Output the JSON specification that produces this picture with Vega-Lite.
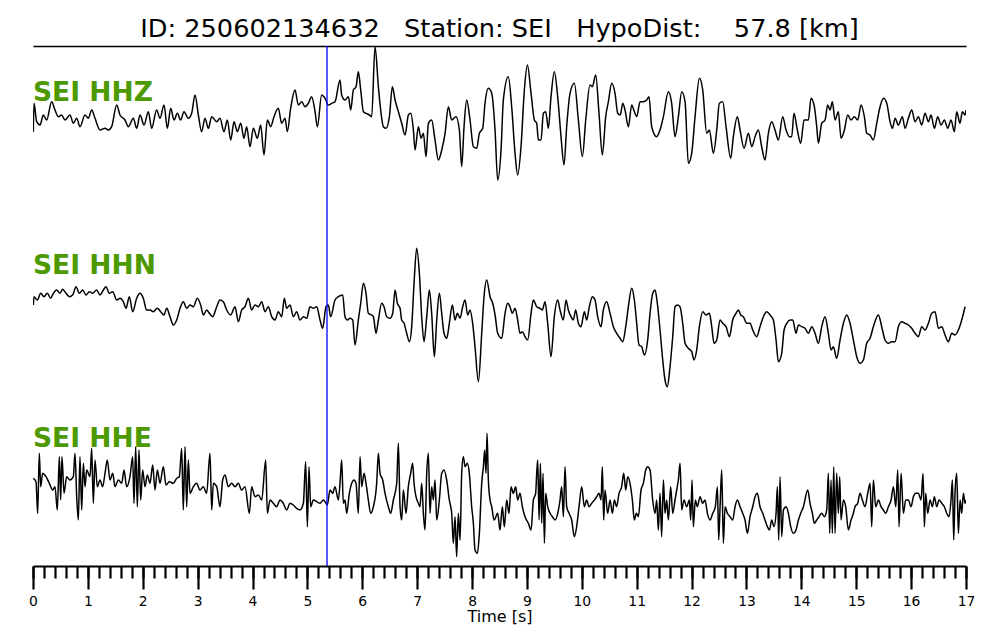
{
"$schema": "https://vega.github.io/schema/vega-lite/v6.json",
"width": 933, "height": 520,
"autosize": {"type": "none"},
"padding": {"left": 33, "top": 46, "right": 34, "bottom": 74},
"background": "white",
"config": {"view": {"stroke": null}, "font": "DejaVu Sans"},
"title": {"text": "ID: 250602134632\u00a0\u00a0\u00a0Station: SEI\u00a0\u00a0\u00a0HypoDist:\u00a0\u00a0\u00a0\u00a057.8 [km]", "fontSize": 25.6, "fontWeight": "normal", "font": "DejaVu Sans", "color": "black", "anchor": "middle", "baseline": "alphabetic", "offset": 9, "dy": 26},
"datasets": {
"tr": [
{"c":"Z","t":0.006,"v":434.3},{"c":"Z","t":0.018,"v":462.7},{"c":"Z","t":0.067,"v":444.3},{"c":"Z","t":0.128,"v":441},{"c":"Z","t":0.188,"v":451},{"c":"Z","t":0.249,"v":446},{"c":"Z","t":0.34,"v":464.3},{"c":"Z","t":0.401,"v":456},{"c":"Z","t":0.462,"v":449.3},{"c":"Z","t":0.522,"v":451},{"c":"Z","t":0.583,"v":446},{"c":"Z","t":0.674,"v":451},{"c":"Z","t":0.735,"v":442.7},{"c":"Z","t":0.796,"v":447.7},{"c":"Z","t":0.856,"v":439.3},{"c":"Z","t":0.948,"v":451},{"c":"Z","t":1.008,"v":447.7},{"c":"Z","t":1.069,"v":456},{"c":"Z","t":1.13,"v":447.7},{"c":"Z","t":1.221,"v":436},{"c":"Z","t":1.312,"v":437.7},{"c":"Z","t":1.373,"v":436},{"c":"Z","t":1.433,"v":439.3},{"c":"Z","t":1.525,"v":461},{"c":"Z","t":1.585,"v":451},{"c":"Z","t":1.676,"v":446},{"c":"Z","t":1.737,"v":439.3},{"c":"Z","t":1.828,"v":447.7},{"c":"Z","t":1.889,"v":437.7},{"c":"Z","t":1.95,"v":451},{"c":"Z","t":2.023,"v":441},{"c":"Z","t":2.102,"v":454.3},{"c":"Z","t":2.162,"v":437.7},{"c":"Z","t":2.253,"v":456},{"c":"Z","t":2.314,"v":447.7},{"c":"Z","t":2.387,"v":461},{"c":"Z","t":2.448,"v":437.7},{"c":"Z","t":2.509,"v":457.7},{"c":"Z","t":2.569,"v":446},{"c":"Z","t":2.63,"v":452.7},{"c":"Z","t":2.691,"v":446},{"c":"Z","t":2.751,"v":454.3},{"c":"Z","t":2.83,"v":447.7},{"c":"Z","t":2.891,"v":452.7},{"c":"Z","t":2.952,"v":471},{"c":"Z","t":3.013,"v":451},{"c":"Z","t":3.073,"v":434.3},{"c":"Z","t":3.134,"v":447.7},{"c":"Z","t":3.195,"v":437.7},{"c":"Z","t":3.256,"v":449.3},{"c":"Z","t":3.347,"v":444.3},{"c":"Z","t":3.407,"v":447.7},{"c":"Z","t":3.48,"v":434.3},{"c":"Z","t":3.541,"v":446},{"c":"Z","t":3.602,"v":426},{"c":"Z","t":3.663,"v":444.3},{"c":"Z","t":3.723,"v":434.3},{"c":"Z","t":3.784,"v":442.7},{"c":"Z","t":3.845,"v":427.7},{"c":"Z","t":3.893,"v":439.3},{"c":"Z","t":3.954,"v":419.3},{"c":"Z","t":4.015,"v":437.7},{"c":"Z","t":4.088,"v":427.7},{"c":"Z","t":4.148,"v":441},{"c":"Z","t":4.209,"v":411},{"c":"Z","t":4.27,"v":446},{"c":"Z","t":4.331,"v":439.3},{"c":"Z","t":4.391,"v":449.3},{"c":"Z","t":4.47,"v":457.7},{"c":"Z","t":4.531,"v":442.7},{"c":"Z","t":4.592,"v":447.7},{"c":"Z","t":4.634,"v":434.3},{"c":"Z","t":4.695,"v":457.7},{"c":"Z","t":4.774,"v":476},{"c":"Z","t":4.835,"v":461},{"c":"Z","t":4.896,"v":464.3},{"c":"Z","t":4.956,"v":459.3},{"c":"Z","t":5.017,"v":462.7},{"c":"Z","t":5.078,"v":469.3},{"c":"Z","t":5.139,"v":454.3},{"c":"Z","t":5.181,"v":439.3},{"c":"Z","t":5.26,"v":471},{"c":"Z","t":5.321,"v":467.7},{"c":"Z","t":5.381,"v":461},{"c":"Z","t":5.442,"v":462.7},{"c":"Z","t":5.503,"v":464.3},
{"c":"Z","t":5.594,"v":486},{"c":"Z","t":5.624,"v":471},{"c":"Z","t":5.685,"v":466},{"c":"Z","t":5.746,"v":469.3},{"c":"Z","t":5.789,"v":456},{"c":"Z","t":5.837,"v":476},{"c":"Z","t":5.886,"v":479.3},{"c":"Z","t":5.928,"v":494.3},{"c":"Z","t":5.971,"v":476},{"c":"Z","t":6.02,"v":454.3},{"c":"Z","t":6.068,"v":452.7},{"c":"Z","t":6.129,"v":451},{"c":"Z","t":6.171,"v":449.3},{"c":"Z","t":6.232,"v":519.3},{"c":"Z","t":6.293,"v":479.3},{"c":"Z","t":6.335,"v":456},{"c":"Z","t":6.384,"v":439.3},{"c":"Z","t":6.433,"v":437.7},{"c":"Z","t":6.494,"v":449.3},{"c":"Z","t":6.548,"v":479.3},{"c":"Z","t":6.597,"v":466},{"c":"Z","t":6.658,"v":454.3},{"c":"Z","t":6.718,"v":442.7},{"c":"Z","t":6.779,"v":431},{"c":"Z","t":6.84,"v":451},{"c":"Z","t":6.882,"v":452.7},{"c":"Z","t":6.931,"v":436},{"c":"Z","t":6.961,"v":416},{"c":"Z","t":7.022,"v":439.3},{"c":"Z","t":7.07,"v":427.7},{"c":"Z","t":7.113,"v":432.7},{"c":"Z","t":7.161,"v":409.3},{"c":"Z","t":7.204,"v":442.7},{"c":"Z","t":7.264,"v":446},{"c":"Z","t":7.325,"v":426},{"c":"Z","t":7.386,"v":406},{"c":"Z","t":7.447,"v":416},{"c":"Z","t":7.508,"v":432.7},{"c":"Z","t":7.568,"v":459.3},{"c":"Z","t":7.629,"v":446},{"c":"Z","t":7.708,"v":449.3},{"c":"Z","t":7.769,"v":436},{"c":"Z","t":7.811,"v":399.3},{"c":"Z","t":7.854,"v":439.3},{"c":"Z","t":7.902,"v":466},{"c":"Z","t":7.963,"v":446},{"c":"Z","t":8.024,"v":419.3},{"c":"Z","t":8.085,"v":417.7},{"c":"Z","t":8.133,"v":432.7},{"c":"Z","t":8.194,"v":437.7},{"c":"Z","t":8.236,"v":462.7},{"c":"Z","t":8.297,"v":477.7},{"c":"Z","t":8.358,"v":472.7},{"c":"Z","t":8.419,"v":436},{"c":"Z","t":8.467,"v":386},
{"c":"Z","t":8.528,"v":416},{"c":"Z","t":8.57,"v":466},{"c":"Z","t":8.661,"v":489.3},{"c":"Z","t":8.722,"v":459.3},{"c":"Z","t":8.783,"v":412.7},{"c":"Z","t":8.831,"v":391},{"c":"Z","t":8.892,"v":419.3},{"c":"Z","t":8.953,"v":476},{"c":"Z","t":9.008,"v":501},{"c":"Z","t":9.075,"v":472.7},{"c":"Z","t":9.135,"v":446},{"c":"Z","t":9.178,"v":442.7},{"c":"Z","t":9.208,"v":426},{"c":"Z","t":9.257,"v":426},{"c":"Z","t":9.299,"v":452.7},{"c":"Z","t":9.342,"v":454.3},{"c":"Z","t":9.39,"v":437.7},{"c":"Z","t":9.439,"v":469.3},{"c":"Z","t":9.499,"v":494.3},{"c":"Z","t":9.56,"v":469.3},{"c":"Z","t":9.621,"v":429.3},{"c":"Z","t":9.675,"v":401},{"c":"Z","t":9.724,"v":439.3},{"c":"Z","t":9.785,"v":472.7},{"c":"Z","t":9.864,"v":482.7},{"c":"Z","t":9.937,"v":446},{"c":"Z","t":10.01,"v":409.3},{"c":"Z","t":10.071,"v":446},{"c":"Z","t":10.149,"v":481},{"c":"Z","t":10.192,"v":479.3},{"c":"Z","t":10.253,"v":491},{"c":"Z","t":10.313,"v":452.7},{"c":"Z","t":10.374,"v":411},{"c":"Z","t":10.435,"v":449.3},{"c":"Z","t":10.484,"v":464.3},{"c":"Z","t":10.544,"v":482.7},{"c":"Z","t":10.605,"v":472.7},{"c":"Z","t":10.654,"v":452.7},{"c":"Z","t":10.702,"v":451},{"c":"Z","t":10.745,"v":462.7},{"c":"Z","t":10.787,"v":456},{"c":"Z","t":10.848,"v":439.3},{"c":"Z","t":10.909,"v":461},{"c":"Z","t":10.957,"v":454.3},{"c":"Z","t":11.0,"v":449.3},{"c":"Z","t":11.061,"v":464.3},{"c":"Z","t":11.121,"v":464.3},{"c":"Z","t":11.182,"v":466},{"c":"Z","t":11.224,"v":469.3},{"c":"Z","t":11.273,"v":439.3},
{"c":"Z","t":11.364,"v":429.3},{"c":"Z","t":11.425,"v":436},{"c":"Z","t":11.486,"v":449.3},{"c":"Z","t":11.577,"v":474.3},{"c":"Z","t":11.637,"v":462.7},{"c":"Z","t":11.698,"v":429.3},{"c":"Z","t":11.759,"v":449.3},{"c":"Z","t":11.82,"v":474.3},{"c":"Z","t":11.881,"v":464.3},{"c":"Z","t":11.941,"v":402.7},{"c":"Z","t":12.002,"v":412.7},{"c":"Z","t":12.063,"v":449.3},{"c":"Z","t":12.142,"v":487.7},{"c":"Z","t":12.203,"v":476},{"c":"Z","t":12.275,"v":432.7},{"c":"Z","t":12.324,"v":436},{"c":"Z","t":12.397,"v":412.7},{"c":"Z","t":12.458,"v":436},{"c":"Z","t":12.506,"v":462.7},{"c":"Z","t":12.567,"v":464.3},{"c":"Z","t":12.628,"v":439.3},{"c":"Z","t":12.713,"v":407.7},{"c":"Z","t":12.761,"v":429.3},{"c":"Z","t":12.834,"v":449.3},{"c":"Z","t":12.883,"v":436},{"c":"Z","t":12.956,"v":417.7},{"c":"Z","t":13.035,"v":432.7},{"c":"Z","t":13.096,"v":419.3},{"c":"Z","t":13.157,"v":429.3},{"c":"Z","t":13.216,"v":436},{"c":"Z","t":13.277,"v":419.3},{"c":"Z","t":13.338,"v":406},{"c":"Z","t":13.399,"v":432.7},{"c":"Z","t":13.46,"v":444.3},{"c":"Z","t":13.52,"v":436},{"c":"Z","t":13.581,"v":426},{"c":"Z","t":13.66,"v":449.3},{"c":"Z","t":13.721,"v":436},{"c":"Z","t":13.782,"v":429.3},{"c":"Z","t":13.824,"v":429.3},{"c":"Z","t":13.866,"v":452.7},{"c":"Z","t":13.927,"v":436},{"c":"Z","t":13.988,"v":422.7},{"c":"Z","t":14.049,"v":446},
{"c":"Z","t":14.128,"v":446},{"c":"Z","t":14.176,"v":467.7},{"c":"Z","t":14.237,"v":459.3},{"c":"Z","t":14.28,"v":439.3},{"c":"Z","t":14.31,"v":422.7},{"c":"Z","t":14.371,"v":442.7},{"c":"Z","t":14.432,"v":446},{"c":"Z","t":14.48,"v":461},{"c":"Z","t":14.523,"v":456},{"c":"Z","t":14.565,"v":464.3},{"c":"Z","t":14.614,"v":446},{"c":"Z","t":14.674,"v":454.3},{"c":"Z","t":14.723,"v":427.7},{"c":"Z","t":14.784,"v":436},{"c":"Z","t":14.845,"v":451},{"c":"Z","t":14.905,"v":446},{"c":"Z","t":14.966,"v":449.3},{"c":"Z","t":15.027,"v":446},{"c":"Z","t":15.088,"v":461},{"c":"Z","t":15.148,"v":449.3},{"c":"Z","t":15.191,"v":432.7},{"c":"Z","t":15.252,"v":431},{"c":"Z","t":15.312,"v":426},{"c":"Z","t":15.373,"v":442.7},{"c":"Z","t":15.434,"v":459.3},{"c":"Z","t":15.495,"v":467.7},{"c":"Z","t":15.556,"v":462.7},{"c":"Z","t":15.616,"v":444.3},{"c":"Z","t":15.659,"v":437.7},{"c":"Z","t":15.708,"v":447.7},{"c":"Z","t":15.768,"v":441},{"c":"Z","t":15.841,"v":449.3},{"c":"Z","t":15.889,"v":437.7},{"c":"Z","t":15.95,"v":447.7},{"c":"Z","t":16.011,"v":456},{"c":"Z","t":16.072,"v":444.3},{"c":"Z","t":16.132,"v":449.3},{"c":"Z","t":16.193,"v":441},{"c":"Z","t":16.254,"v":452.7},{"c":"Z","t":16.315,"v":444.3},{"c":"Z","t":16.363,"v":451},{"c":"Z","t":16.424,"v":437.7},{"c":"Z","t":16.485,"v":449.3},{"c":"Z","t":16.545,"v":441},{"c":"Z","t":16.606,"v":446},{"c":"Z","t":16.667,"v":437.7},{"c":"Z","t":16.727,"v":446},{"c":"Z","t":16.788,"v":434.3},{"c":"Z","t":16.83,"v":454.3},{"c":"Z","t":16.891,"v":442.7},{"c":"Z","t":16.934,"v":454.3},{"c":"Z","t":16.982,"v":451},{"c":"Z","t":17.0,"v":456},
{"c":"N","t":0.006,"v":261},{"c":"N","t":0.018,"v":269.3},{"c":"N","t":0.079,"v":266},{"c":"N","t":0.14,"v":272.7},{"c":"N","t":0.2,"v":269.3},{"c":"N","t":0.261,"v":272.7},{"c":"N","t":0.322,"v":267.7},{"c":"N","t":0.371,"v":272.7},{"c":"N","t":0.431,"v":276},{"c":"N","t":0.492,"v":272.7},{"c":"N","t":0.541,"v":276.7},{"c":"N","t":0.601,"v":272.7},{"c":"N","t":0.662,"v":269.3},{"c":"N","t":0.723,"v":271},{"c":"N","t":0.784,"v":279.3},{"c":"N","t":0.844,"v":272.7},{"c":"N","t":0.905,"v":276},{"c":"N","t":0.966,"v":271},{"c":"N","t":1.026,"v":274.3},{"c":"N","t":1.087,"v":272.7},{"c":"N","t":1.16,"v":276},{"c":"N","t":1.221,"v":271},{"c":"N","t":1.282,"v":276},{"c":"N","t":1.33,"v":279.3},{"c":"N","t":1.391,"v":272.7},{"c":"N","t":1.452,"v":274.3},{"c":"N","t":1.525,"v":266},{"c":"N","t":1.585,"v":267.7},{"c":"N","t":1.646,"v":264.3},{"c":"N","t":1.695,"v":257.7},{"c":"N","t":1.755,"v":269.3},{"c":"N","t":1.816,"v":254.3},{"c":"N","t":1.889,"v":267.7},{"c":"N","t":1.95,"v":272.7},{"c":"N","t":2.01,"v":267.7},{"c":"N","t":2.071,"v":256},{"c":"N","t":2.132,"v":256},{"c":"N","t":2.193,"v":254.3},{"c":"N","t":2.266,"v":257.7},{"c":"N","t":2.326,"v":254.3},{"c":"N","t":2.387,"v":251},{"c":"N","t":2.436,"v":257.7},{"c":"N","t":2.496,"v":249.3},{"c":"N","t":2.557,"v":241},{"c":"N","t":2.618,"v":246},{"c":"N","t":2.679,"v":257.7},{"c":"N","t":2.739,"v":264.3},{"c":"N","t":2.8,"v":257.7},{"c":"N","t":2.861,"v":261},{"c":"N","t":2.922,"v":259.3},{"c":"N","t":2.994,"v":267.7},{"c":"N","t":3.055,"v":261},{"c":"N","t":3.104,"v":251},{"c":"N","t":3.165,"v":256},{"c":"N","t":3.213,"v":252.7},{"c":"N","t":3.274,"v":249.3},{"c":"N","t":3.347,"v":259.3},{"c":"N","t":3.407,"v":266},{"c":"N","t":3.468,"v":264.3},{"c":"N","t":3.529,"v":256},{"c":"N","t":3.602,"v":251},{"c":"N","t":3.681,"v":259.3},{"c":"N","t":3.741,"v":244.3},{"c":"N","t":3.802,"v":256},{"c":"N","t":3.863,"v":259.3},{"c":"N","t":3.924,"v":267.7},{"c":"N","t":3.984,"v":256},{"c":"N","t":4.045,"v":261},{"c":"N","t":4.106,"v":259.3},{"c":"N","t":4.167,"v":264.3},{"c":"N","t":4.227,"v":254.3},{"c":"N","t":4.288,"v":259.3},{"c":"N","t":4.349,"v":249.3},{"c":"N","t":4.41,"v":246},{"c":"N","t":4.47,"v":254.3},{"c":"N","t":4.531,"v":249.3},{"c":"N","t":4.58,"v":267.7},{"c":"N","t":4.622,"v":257.7},{"c":"N","t":4.683,"v":261},{"c":"N","t":4.744,"v":249.3},{"c":"N","t":4.804,"v":254.3},{"c":"N","t":4.865,"v":246},{"c":"N","t":4.926,"v":249.3},{"c":"N","t":4.987,"v":247.7},{"c":"N","t":5.047,"v":259.3},{"c":"N","t":5.108,"v":257.7},{"c":"N","t":5.169,"v":259.3},{"c":"N","t":5.23,"v":246},{"c":"N","t":5.278,"v":237.7},{"c":"N","t":5.339,"v":259.3},{"c":"N","t":5.381,"v":261},{"c":"N","t":5.424,"v":249.3},{"c":"N","t":5.503,"v":266},{"c":"N","t":5.564,"v":269.3},
{"c":"N","t":5.643,"v":271},{"c":"N","t":5.685,"v":249.3},{"c":"N","t":5.728,"v":246},{"c":"N","t":5.776,"v":247.7},{"c":"N","t":5.825,"v":246},{"c":"N","t":5.867,"v":221},{"c":"N","t":5.928,"v":246},{"c":"N","t":5.971,"v":262.7},{"c":"N","t":6.02,"v":282.7},{"c":"N","t":6.068,"v":272.7},{"c":"N","t":6.11,"v":252.7},{"c":"N","t":6.171,"v":251},{"c":"N","t":6.202,"v":249.3},{"c":"N","t":6.25,"v":232.7},{"c":"N","t":6.293,"v":246},{"c":"N","t":6.353,"v":262.7},{"c":"N","t":6.396,"v":259.3},{"c":"N","t":6.445,"v":249.3},{"c":"N","t":6.505,"v":247.7},{"c":"N","t":6.554,"v":252.7},{"c":"N","t":6.597,"v":276},{"c":"N","t":6.639,"v":262.7},{"c":"N","t":6.688,"v":257.7},{"c":"N","t":6.718,"v":246},{"c":"N","t":6.761,"v":242.7},{"c":"N","t":6.809,"v":232.7},{"c":"N","t":6.858,"v":224.3},{"c":"N","t":6.9,"v":239.3},{"c":"N","t":6.943,"v":282.7},{"c":"N","t":6.991,"v":317.7},{"c":"N","t":7.04,"v":292.7},{"c":"N","t":7.082,"v":249.3},{"c":"N","t":7.125,"v":224.3},{"c":"N","t":7.174,"v":249.3},{"c":"N","t":7.222,"v":276},{"c":"N","t":7.264,"v":252.7},{"c":"N","t":7.313,"v":209.3},{"c":"N","t":7.356,"v":246},{"c":"N","t":7.404,"v":272.7},{"c":"N","t":7.447,"v":252.7},{"c":"N","t":7.489,"v":232.7},{"c":"N","t":7.538,"v":227.7},{"c":"N","t":7.586,"v":242.7},{"c":"N","t":7.641,"v":261},{"c":"N","t":7.69,"v":246},{"c":"N","t":7.732,"v":252.7},{"c":"N","t":7.781,"v":247.7},{"c":"N","t":7.829,"v":259.3},{"c":"N","t":7.872,"v":266},{"c":"N","t":7.92,"v":251},{"c":"N","t":7.963,"v":256},{"c":"N","t":8.011,"v":242.7},{"c":"N","t":8.054,"v":219.3},{"c":"N","t":8.115,"v":184.3},{"c":"N","t":8.176,"v":232.7},{"c":"N","t":8.218,"v":269.3},{"c":"N","t":8.267,"v":286},{"c":"N","t":8.328,"v":269.3},{"c":"N","t":8.376,"v":262.7},{"c":"N","t":8.419,"v":251},{"c":"N","t":8.467,"v":232.7},
{"c":"N","t":8.54,"v":227.7},{"c":"N","t":8.601,"v":252.7},{"c":"N","t":8.649,"v":262.7},{"c":"N","t":8.691,"v":259.3},{"c":"N","t":8.734,"v":252.7},{"c":"N","t":8.783,"v":257.7},{"c":"N","t":8.831,"v":246},{"c":"N","t":8.874,"v":232.7},{"c":"N","t":8.916,"v":234.3},{"c":"N","t":8.965,"v":229.3},{"c":"N","t":9.014,"v":226},{"c":"N","t":9.075,"v":252.7},{"c":"N","t":9.117,"v":266},{"c":"N","t":9.178,"v":259.3},{"c":"N","t":9.239,"v":257.7},{"c":"N","t":9.281,"v":256},{"c":"N","t":9.329,"v":264.3},{"c":"N","t":9.378,"v":242.7},{"c":"N","t":9.439,"v":209.3},{"c":"N","t":9.499,"v":249.3},{"c":"N","t":9.56,"v":266},{"c":"N","t":9.603,"v":256},{"c":"N","t":9.663,"v":246},{"c":"N","t":9.712,"v":266},{"c":"N","t":9.754,"v":256},{"c":"N","t":9.803,"v":249.3},{"c":"N","t":9.845,"v":246},{"c":"N","t":9.888,"v":256},{"c":"N","t":9.937,"v":242.7},{"c":"N","t":9.985,"v":239.3},{"c":"N","t":10.046,"v":254.3},{"c":"N","t":10.088,"v":246},{"c":"N","t":10.137,"v":259.3},{"c":"N","t":10.192,"v":269.3},{"c":"N","t":10.241,"v":266},{"c":"N","t":10.289,"v":249.3},{"c":"N","t":10.35,"v":239.3},{"c":"N","t":10.392,"v":256},{"c":"N","t":10.453,"v":264.3},{"c":"N","t":10.514,"v":252.7},{"c":"N","t":10.575,"v":239.3},{"c":"N","t":10.635,"v":232.7},{"c":"N","t":10.696,"v":227.7},{"c":"N","t":10.745,"v":224.3},{"c":"N","t":10.8,"v":239.3},{"c":"N","t":10.848,"v":259.3},{"c":"N","t":10.909,"v":277.7},{"c":"N","t":10.957,"v":266},{"c":"N","t":11.0,"v":242.7},{"c":"N","t":11.042,"v":221},{"c":"N","t":11.091,"v":219.3},{"c":"N","t":11.14,"v":211},{"c":"N","t":11.2,"v":226},{"c":"N","t":11.243,"v":252.7},
{"c":"N","t":11.292,"v":272.7},{"c":"N","t":11.334,"v":276},{"c":"N","t":11.376,"v":262.7},{"c":"N","t":11.425,"v":236},{"c":"N","t":11.474,"v":206},{"c":"N","t":11.516,"v":186},{"c":"N","t":11.558,"v":179.3},{"c":"N","t":11.607,"v":199.3},{"c":"N","t":11.656,"v":229.3},{"c":"N","t":11.698,"v":259.3},{"c":"N","t":11.741,"v":261},{"c":"N","t":11.789,"v":259.3},{"c":"N","t":11.838,"v":242.7},{"c":"N","t":11.881,"v":222.7},{"c":"N","t":11.941,"v":217.7},{"c":"N","t":12.002,"v":214.3},{"c":"N","t":12.044,"v":206},{"c":"N","t":12.093,"v":216},{"c":"N","t":12.142,"v":239.3},{"c":"N","t":12.203,"v":254.3},{"c":"N","t":12.263,"v":251},{"c":"N","t":12.324,"v":252.7},{"c":"N","t":12.367,"v":239.3},{"c":"N","t":12.409,"v":222.7},{"c":"N","t":12.458,"v":226},{"c":"N","t":12.518,"v":246},{"c":"N","t":12.567,"v":242.7},{"c":"N","t":12.628,"v":239.3},{"c":"N","t":12.689,"v":229.3},{"c":"N","t":12.749,"v":246},{"c":"N","t":12.81,"v":252.7},{"c":"N","t":12.853,"v":256},{"c":"N","t":12.895,"v":251},{"c":"N","t":12.944,"v":249.3},{"c":"N","t":13.004,"v":242.7},{"c":"N","t":13.065,"v":242.7},{"c":"N","t":13.114,"v":236},{"c":"N","t":13.187,"v":229.3},{"c":"N","t":13.247,"v":239.3},{"c":"N","t":13.308,"v":249.3},{"c":"N","t":13.369,"v":254.3},{"c":"N","t":13.43,"v":251},{"c":"N","t":13.49,"v":246},{"c":"N","t":13.539,"v":226},{"c":"N","t":13.582,"v":204.3},{"c":"N","t":13.642,"v":212.7},{"c":"N","t":13.685,"v":236},{"c":"N","t":13.734,"v":242.7},{"c":"N","t":13.794,"v":246},{"c":"N","t":13.843,"v":246},{"c":"N","t":13.903,"v":232.7},{"c":"N","t":13.946,"v":241},{"c":"N","t":14.007,"v":239.3},
{"c":"N","t":14.067,"v":237.7},{"c":"N","t":14.128,"v":232.7},{"c":"N","t":14.189,"v":239.3},{"c":"N","t":14.249,"v":232.7},{"c":"N","t":14.31,"v":222.7},{"c":"N","t":14.371,"v":239.3},{"c":"N","t":14.432,"v":249.3},{"c":"N","t":14.492,"v":232.7},{"c":"N","t":14.541,"v":216},{"c":"N","t":14.583,"v":219.3},{"c":"N","t":14.644,"v":207.7},{"c":"N","t":14.705,"v":226},{"c":"N","t":14.766,"v":242.7},{"c":"N","t":14.827,"v":251},{"c":"N","t":14.887,"v":242.7},{"c":"N","t":14.948,"v":226},{"c":"N","t":15.009,"v":209.3},{"c":"N","t":15.069,"v":202.7},{"c":"N","t":15.13,"v":206},{"c":"N","t":15.191,"v":222.7},{"c":"N","t":15.252,"v":227.7},{"c":"N","t":15.312,"v":239.3},{"c":"N","t":15.404,"v":251},{"c":"N","t":15.464,"v":239.3},{"c":"N","t":15.525,"v":226},{"c":"N","t":15.586,"v":222.7},{"c":"N","t":15.647,"v":224.3},{"c":"N","t":15.707,"v":224.3},{"c":"N","t":15.768,"v":239.3},{"c":"N","t":15.829,"v":244.3},{"c":"N","t":15.889,"v":242.7},{"c":"N","t":15.95,"v":241},{"c":"N","t":16.011,"v":237.7},{"c":"N","t":16.072,"v":232.7},{"c":"N","t":16.132,"v":229.3},{"c":"N","t":16.193,"v":239.3},{"c":"N","t":16.254,"v":236},{"c":"N","t":16.315,"v":242.7},{"c":"N","t":16.376,"v":252.7},{"c":"N","t":16.436,"v":254.3},{"c":"N","t":16.497,"v":237.7},{"c":"N","t":16.558,"v":239.3},{"c":"N","t":16.618,"v":231},{"c":"N","t":16.679,"v":224.3},{"c":"N","t":16.74,"v":232.7},{"c":"N","t":16.8,"v":231},{"c":"N","t":16.861,"v":236},{"c":"N","t":16.922,"v":246},{"c":"N","t":16.983,"v":259.3},
{"c":"E","t":0.006,"v":87.7},{"c":"E","t":0.055,"v":84.3},{"c":"E","t":0.085,"v":52.7},{"c":"E","t":0.115,"v":112.7},{"c":"E","t":0.14,"v":79.3},{"c":"E","t":0.176,"v":92.7},{"c":"E","t":0.237,"v":89.3},{"c":"E","t":0.298,"v":82.7},{"c":"E","t":0.358,"v":76},{"c":"E","t":0.401,"v":79.3},{"c":"E","t":0.443,"v":56},{"c":"E","t":0.48,"v":109.3},{"c":"E","t":0.504,"v":66},{"c":"E","t":0.528,"v":109.3},{"c":"E","t":0.565,"v":72.7},{"c":"E","t":0.613,"v":89.3},{"c":"E","t":0.674,"v":86},{"c":"E","t":0.735,"v":89.3},{"c":"E","t":0.765,"v":112.7},{"c":"E","t":0.796,"v":69.3},{"c":"E","t":0.826,"v":46},{"c":"E","t":0.856,"v":109.3},{"c":"E","t":0.887,"v":56},{"c":"E","t":0.917,"v":102.7},{"c":"E","t":0.948,"v":79.3},{"c":"E","t":0.978,"v":96},{"c":"E","t":1.039,"v":89.3},{"c":"E","t":1.069,"v":117.7},{"c":"E","t":1.099,"v":62.7},{"c":"E","t":1.13,"v":106},{"c":"E","t":1.172,"v":79.3},{"c":"E","t":1.221,"v":86},{"c":"E","t":1.269,"v":79.3},{"c":"E","t":1.312,"v":92.7},{"c":"E","t":1.354,"v":106},{"c":"E","t":1.403,"v":86},{"c":"E","t":1.452,"v":92.7},{"c":"E","t":1.494,"v":79.3},{"c":"E","t":1.555,"v":86},{"c":"E","t":1.616,"v":82.7},{"c":"E","t":1.658,"v":96},{"c":"E","t":1.707,"v":79.3},{"c":"E","t":1.767,"v":89.3},{"c":"E","t":1.816,"v":109.3},{"c":"E","t":1.84,"v":62.7},{"c":"E","t":1.871,"v":119.3},{"c":"E","t":1.901,"v":59.3},{"c":"E","t":1.931,"v":116},{"c":"E","t":1.962,"v":66},{"c":"E","t":1.998,"v":96},{"c":"E","t":2.041,"v":79.3},{"c":"E","t":2.083,"v":91},{"c":"E","t":2.132,"v":82.7},{"c":"E","t":2.181,"v":101},{"c":"E","t":2.223,"v":76},{"c":"E","t":2.266,"v":96},{"c":"E","t":2.314,"v":82.7},{"c":"E","t":2.375,"v":99.3},{"c":"E","t":2.423,"v":81},{"c":"E","t":2.484,"v":84.3},{"c":"E","t":2.557,"v":82.7},{"c":"E","t":2.618,"v":87.7},{"c":"E","t":2.666,"v":89.3},{"c":"E","t":2.709,"v":117.7},{"c":"E","t":2.739,"v":56},{"c":"E","t":2.77,"v":119.3},{"c":"E","t":2.8,"v":59.3},{"c":"E","t":2.83,"v":106},{"c":"E","t":2.861,"v":72.7},{"c":"E","t":2.922,"v":79.3},{"c":"E","t":2.982,"v":82.7},{"c":"E","t":3.043,"v":76},{"c":"E","t":3.104,"v":79.3},{"c":"E","t":3.164,"v":72.7},{"c":"E","t":3.225,"v":112.7},{"c":"E","t":3.256,"v":56},{"c":"E","t":3.286,"v":82.7},{"c":"E","t":3.347,"v":79.3},{"c":"E","t":3.407,"v":59.3},{"c":"E","t":3.456,"v":86},{"c":"E","t":3.499,"v":91},{"c":"E","t":3.559,"v":79.3},{"c":"E","t":3.62,"v":82.7},{"c":"E","t":3.681,"v":79.3},{"c":"E","t":3.741,"v":82.7},{"c":"E","t":3.802,"v":76},{"c":"E","t":3.863,"v":79.3},{"c":"E","t":3.942,"v":52.7},{"c":"E","t":3.984,"v":79.3},{"c":"E","t":4.045,"v":69.3},{"c":"E","t":4.106,"v":71},{"c":"E","t":4.167,"v":66},{"c":"E","t":4.24,"v":106},{"c":"E","t":4.27,"v":52.7},{"c":"E","t":4.319,"v":66},{"c":"E","t":4.379,"v":62.7},{"c":"E","t":4.44,"v":59.3},{"c":"E","t":4.501,"v":66},{"c":"E","t":4.561,"v":62.7},{"c":"E","t":4.622,"v":56},{"c":"E","t":4.683,"v":62.7},{"c":"E","t":4.744,"v":61},{"c":"E","t":4.804,"v":57.7},{"c":"E","t":4.865,"v":56},{"c":"E","t":4.926,"v":62.7},{"c":"E","t":4.968,"v":104.3},{"c":"E","t":4.999,"v":39.3},{"c":"E","t":5.029,"v":99.3},{"c":"E","t":5.06,"v":59.3},{"c":"E","t":5.108,"v":66},{"c":"E","t":5.169,"v":64.3},{"c":"E","t":5.23,"v":62.7},{"c":"E","t":5.29,"v":66},{"c":"E","t":5.321,"v":64.3},{"c":"E","t":5.363,"v":61},{"c":"E","t":5.412,"v":76},{"c":"E","t":5.46,"v":72.7},{"c":"E","t":5.503,"v":79.3},{"c":"E","t":5.564,"v":66},
{"c":"E","t":5.594,"v":82.7},{"c":"E","t":5.624,"v":106},{"c":"E","t":5.655,"v":62.7},{"c":"E","t":5.685,"v":66},{"c":"E","t":5.716,"v":52.7},{"c":"E","t":5.764,"v":72.7},{"c":"E","t":5.807,"v":82.7},{"c":"E","t":5.849,"v":86},{"c":"E","t":5.886,"v":82.7},{"c":"E","t":5.928,"v":52.7},{"c":"E","t":5.959,"v":109.3},{"c":"E","t":5.989,"v":79.3},{"c":"E","t":6.032,"v":92.7},{"c":"E","t":6.068,"v":82.7},{"c":"E","t":6.11,"v":66},{"c":"E","t":6.153,"v":52.7},{"c":"E","t":6.202,"v":59.3},{"c":"E","t":6.262,"v":82.7},{"c":"E","t":6.293,"v":112.7},{"c":"E","t":6.323,"v":92.7},{"c":"E","t":6.372,"v":86},{"c":"E","t":6.414,"v":72.7},{"c":"E","t":6.475,"v":59.3},{"c":"E","t":6.517,"v":52.7},{"c":"E","t":6.566,"v":66},{"c":"E","t":6.627,"v":82.7},{"c":"E","t":6.657,"v":122.7},{"c":"E","t":6.688,"v":59.3},{"c":"E","t":6.718,"v":46},{"c":"E","t":6.748,"v":76},{"c":"E","t":6.797,"v":52.7},{"c":"E","t":6.839,"v":79.3},{"c":"E","t":6.882,"v":92.7},{"c":"E","t":6.918,"v":102.7},{"c":"E","t":6.943,"v":82.7},{"c":"E","t":6.979,"v":69.3},{"c":"E","t":7.022,"v":62.7},{"c":"E","t":7.052,"v":59.3},{"c":"E","t":7.082,"v":82.7},{"c":"E","t":7.113,"v":52.7},{"c":"E","t":7.143,"v":36},{"c":"E","t":7.174,"v":92.7},{"c":"E","t":7.204,"v":112.7},{"c":"E","t":7.234,"v":52.7},{"c":"E","t":7.264,"v":79.3},{"c":"E","t":7.295,"v":66},{"c":"E","t":7.325,"v":86},{"c":"E","t":7.356,"v":46},{"c":"E","t":7.404,"v":66},{"c":"E","t":7.447,"v":92.7},{"c":"E","t":7.489,"v":96},{"c":"E","t":7.538,"v":86},{"c":"E","t":7.586,"v":66},{"c":"E","t":7.629,"v":52.7},{"c":"E","t":7.659,"v":22.7},{"c":"E","t":7.69,"v":49.3},{"c":"E","t":7.719,"v":9.3},{"c":"E","t":7.75,"v":52.7},{"c":"E","t":7.781,"v":26},{"c":"E","t":7.811,"v":92.7},{"c":"E","t":7.841,"v":109.3},{"c":"E","t":7.872,"v":99.3},{"c":"E","t":7.914,"v":102.7},{"c":"E","t":7.95,"v":92.7},{"c":"E","t":7.993,"v":59.3},{"c":"E","t":8.024,"v":42.7},{"c":"E","t":8.054,"v":16},{"c":"E","t":8.097,"v":12.7},{"c":"E","t":8.133,"v":32.7},{"c":"E","t":8.176,"v":82.7},{"c":"E","t":8.206,"v":99.3},{"c":"E","t":8.23,"v":116},{"c":"E","t":8.254,"v":92.7},{"c":"E","t":8.273,"v":132.7},{"c":"E","t":8.297,"v":86},{"c":"E","t":8.328,"v":66},{"c":"E","t":8.358,"v":59.3},{"c":"E","t":8.401,"v":46},
{"c":"E","t":8.467,"v":52.7},{"c":"E","t":8.509,"v":36},{"c":"E","t":8.552,"v":59.3},{"c":"E","t":8.588,"v":39.3},{"c":"E","t":8.631,"v":66},{"c":"E","t":8.673,"v":52.7},{"c":"E","t":8.71,"v":79.3},{"c":"E","t":8.752,"v":72.7},{"c":"E","t":8.795,"v":79.3},{"c":"E","t":8.831,"v":66},{"c":"E","t":8.874,"v":72.7},{"c":"E","t":8.916,"v":59.3},{"c":"E","t":8.965,"v":49.3},{"c":"E","t":9.026,"v":42.7},{"c":"E","t":9.075,"v":36},{"c":"E","t":9.117,"v":66},{"c":"E","t":9.159,"v":72.7},{"c":"E","t":9.178,"v":92.7},{"c":"E","t":9.197,"v":106},{"c":"E","t":9.221,"v":46},{"c":"E","t":9.245,"v":102.7},{"c":"E","t":9.269,"v":42.7},{"c":"E","t":9.293,"v":92.7},{"c":"E","t":9.318,"v":22.7},{"c":"E","t":9.342,"v":72.7},{"c":"E","t":9.378,"v":59.3},{"c":"E","t":9.421,"v":52.7},{"c":"E","t":9.464,"v":49.3},{"c":"E","t":9.512,"v":46},{"c":"E","t":9.561,"v":52.7},{"c":"E","t":9.603,"v":66},{"c":"E","t":9.633,"v":79.3},{"c":"E","t":9.664,"v":49.3},{"c":"E","t":9.694,"v":99.3},{"c":"E","t":9.724,"v":59.3},{"c":"E","t":9.767,"v":52.7},{"c":"E","t":9.815,"v":46},{"c":"E","t":9.864,"v":29.3},{"c":"E","t":9.906,"v":39.3},{"c":"E","t":9.949,"v":59.3},{"c":"E","t":9.998,"v":79.3},{"c":"E","t":10.046,"v":59.3},{"c":"E","t":10.088,"v":66},{"c":"E","t":10.131,"v":59.3},{"c":"E","t":10.18,"v":62.7},{"c":"E","t":10.228,"v":66},{"c":"E","t":10.271,"v":69.3},{"c":"E","t":10.313,"v":72.7},{"c":"E","t":10.35,"v":66},{"c":"E","t":10.374,"v":99.3},{"c":"E","t":10.398,"v":46},{"c":"E","t":10.423,"v":76},{"c":"E","t":10.471,"v":52.7},{"c":"E","t":10.514,"v":66},{"c":"E","t":10.557,"v":52.7},{"c":"E","t":10.593,"v":66},{"c":"E","t":10.635,"v":59.3},{"c":"E","t":10.678,"v":72.7},{"c":"E","t":10.726,"v":79.3},{"c":"E","t":10.763,"v":92.7},{"c":"E","t":10.8,"v":76},{"c":"E","t":10.836,"v":89.3},{"c":"E","t":10.878,"v":82.7},{"c":"E","t":10.921,"v":66},{"c":"E","t":10.957,"v":46},{"c":"E","t":10.994,"v":52.7},{"c":"E","t":11.03,"v":49.3},{"c":"E","t":11.079,"v":76},{"c":"E","t":11.121,"v":82.7},{"c":"E","t":11.164,"v":96},{"c":"E","t":11.2,"v":99.3},
{"c":"E","t":11.243,"v":96},{"c":"E","t":11.291,"v":66},{"c":"E","t":11.334,"v":52.7},{"c":"E","t":11.364,"v":66},{"c":"E","t":11.394,"v":36},{"c":"E","t":11.425,"v":72.7},{"c":"E","t":11.455,"v":29.3},{"c":"E","t":11.486,"v":86},{"c":"E","t":11.516,"v":52.7},{"c":"E","t":11.546,"v":66},{"c":"E","t":11.577,"v":46},{"c":"E","t":11.619,"v":79.3},{"c":"E","t":11.656,"v":52.7},{"c":"E","t":11.698,"v":66},{"c":"E","t":11.729,"v":76},{"c":"E","t":11.759,"v":86},{"c":"E","t":11.79,"v":102.7},{"c":"E","t":11.82,"v":56},{"c":"E","t":11.862,"v":66},{"c":"E","t":11.911,"v":59.3},{"c":"E","t":11.959,"v":66},{"c":"E","t":11.984,"v":46},{"c":"E","t":12.008,"v":86},{"c":"E","t":12.032,"v":39.3},{"c":"E","t":12.069,"v":66},{"c":"E","t":12.105,"v":59.3},{"c":"E","t":12.154,"v":69.3},{"c":"E","t":12.202,"v":62.7},{"c":"E","t":12.245,"v":66},{"c":"E","t":12.288,"v":52.7},{"c":"E","t":12.336,"v":46},{"c":"E","t":12.385,"v":52.7},{"c":"E","t":12.433,"v":59.3},{"c":"E","t":12.47,"v":79.3},{"c":"E","t":12.494,"v":26},{"c":"E","t":12.519,"v":59.3},{"c":"E","t":12.549,"v":96},{"c":"E","t":12.579,"v":22.7},{"c":"E","t":12.61,"v":59.3},{"c":"E","t":12.652,"v":52.7},{"c":"E","t":12.701,"v":49.3},{"c":"E","t":12.749,"v":46},{"c":"E","t":12.792,"v":59.3},{"c":"E","t":12.834,"v":66},{"c":"E","t":12.883,"v":59.3},{"c":"E","t":12.931,"v":52.7},{"c":"E","t":12.974,"v":46},{"c":"E","t":13.017,"v":32.7},{"c":"E","t":13.065,"v":49.3},{"c":"E","t":13.114,"v":59.3},{"c":"E","t":13.156,"v":69.3},{"c":"E","t":13.199,"v":72.7},{"c":"E","t":13.247,"v":59.3},{"c":"E","t":13.296,"v":52.7},{"c":"E","t":13.338,"v":46},{"c":"E","t":13.381,"v":39.3},{"c":"E","t":13.418,"v":36},{"c":"E","t":13.46,"v":46},{"c":"E","t":13.502,"v":39.3},{"c":"E","t":13.539,"v":52.7},{"c":"E","t":13.563,"v":79.3},{"c":"E","t":13.588,"v":26},{"c":"E","t":13.612,"v":89.3},{"c":"E","t":13.642,"v":29.3},{"c":"E","t":13.673,"v":56},{"c":"E","t":13.721,"v":59.3},{"c":"E","t":13.764,"v":52.7},{"c":"E","t":13.806,"v":39.3},{"c":"E","t":13.855,"v":32.7},{"c":"E","t":13.903,"v":36},{"c":"E","t":13.946,"v":46},{"c":"E","t":13.988,"v":52.7},{"c":"E","t":14.037,"v":59.3},
{"c":"E","t":14.116,"v":76},{"c":"E","t":14.158,"v":62.7},{"c":"E","t":14.201,"v":52.7},{"c":"E","t":14.237,"v":42.7},{"c":"E","t":14.28,"v":46},{"c":"E","t":14.322,"v":49.3},{"c":"E","t":14.371,"v":52.7},{"c":"E","t":14.419,"v":49.3},{"c":"E","t":14.462,"v":56},{"c":"E","t":14.492,"v":92.7},{"c":"E","t":14.517,"v":32.7},{"c":"E","t":14.541,"v":86},{"c":"E","t":14.565,"v":32.7},{"c":"E","t":14.59,"v":99.3},{"c":"E","t":14.614,"v":32.7},{"c":"E","t":14.644,"v":92.7},{"c":"E","t":14.674,"v":52.7},{"c":"E","t":14.699,"v":89.3},{"c":"E","t":14.723,"v":46},{"c":"E","t":14.766,"v":66},{"c":"E","t":14.808,"v":59.3},{"c":"E","t":14.857,"v":36},{"c":"E","t":14.905,"v":46},{"c":"E","t":14.948,"v":52.7},{"c":"E","t":14.978,"v":59.3},{"c":"E","t":15.027,"v":62.7},{"c":"E","t":15.069,"v":72.7},{"c":"E","t":15.112,"v":66},{"c":"E","t":15.16,"v":59.3},{"c":"E","t":15.209,"v":72.7},{"c":"E","t":15.252,"v":82.7},{"c":"E","t":15.282,"v":39.3},{"c":"E","t":15.312,"v":86},{"c":"E","t":15.355,"v":59.3},{"c":"E","t":15.404,"v":66},{"c":"E","t":15.452,"v":59.3},{"c":"E","t":15.495,"v":56},{"c":"E","t":15.537,"v":52.7},{"c":"E","t":15.586,"v":59.3},{"c":"E","t":15.635,"v":66},{"c":"E","t":15.677,"v":79.3},{"c":"E","t":15.72,"v":59.3},{"c":"E","t":15.756,"v":96},{"c":"E","t":15.78,"v":39.3},{"c":"E","t":15.817,"v":92.7},{"c":"E","t":15.859,"v":52.7},{"c":"E","t":15.902,"v":66},{"c":"E","t":15.95,"v":66},{"c":"E","t":15.999,"v":59.3},{"c":"E","t":16.041,"v":69.3},{"c":"E","t":16.084,"v":72.7},{"c":"E","t":16.132,"v":72.7},{"c":"E","t":16.181,"v":66},{"c":"E","t":16.217,"v":92.7},{"c":"E","t":16.242,"v":39.3},{"c":"E","t":16.266,"v":72.7},{"c":"E","t":16.302,"v":52.7},{"c":"E","t":16.345,"v":66},{"c":"E","t":16.388,"v":59.3},{"c":"E","t":16.424,"v":69.3},{"c":"E","t":16.467,"v":59.3},{"c":"E","t":16.509,"v":66},{"c":"E","t":16.558,"v":62.7},{"c":"E","t":16.606,"v":59.3},{"c":"E","t":16.649,"v":52.7},{"c":"E","t":16.691,"v":49.3},{"c":"E","t":16.727,"v":66},{"c":"E","t":16.752,"v":86},{"c":"E","t":16.776,"v":26},{"c":"E","t":16.8,"v":72.7},{"c":"E","t":16.831,"v":92.7},{"c":"E","t":16.861,"v":32.7},{"c":"E","t":16.892,"v":66},{"c":"E","t":16.922,"v":52.7},{"c":"E","t":16.952,"v":72.7},{"c":"E","t":16.983,"v":62.7},{"c":"E","t":17.0,"v":66}
]
},
"layer": [
{
"data": {"name": "tr"},
"mark": {"type": "line", "color": "black", "strokeWidth": 1.5, "interpolate": "monotone", "clip": true},
"encoding": {
"x": {"field": "t", "type": "quantitative", "scale": {"domain": [0, 17], "nice": false, "zero": false},
"axis": {"orient": "bottom", "values": [0,1,2,3,4,5,6,7,8,9,10,11,12,13,14,15,16,17], "format": "d", "tickSize": 23, "tickWidth": 2.2, "tickColor": "black", "domainColor": "black", "domainWidth": 2.2, "labelFont": "DejaVu Sans", "labelFontSize": 13.9, "labelColor": "black", "labelPadding": 5, "labelFlush": false, "labelOverlap": false, "grid": false, "title": "Time [s]", "titleFont": "DejaVu Sans", "titleFontSize": 16, "titleFontWeight": "normal", "titleColor": "black", "titlePadding": 1}},
"y": {"field": "v", "type": "quantitative", "scale": {"domain": [0, 520], "nice": false, "zero": false}, "axis": null},
"detail": {"field": "c"}
}
},
{
"data": {"values": [{"t": 5.357}]},
"mark": {"type": "rule", "color": "#0000ff", "strokeWidth": 1.3},
"encoding": {
"x": {"field": "t", "type": "quantitative",
"axis": {"orient": "bottom", "values": [0,0.2,0.4,0.6,0.8,1,1.2,1.4,1.6,1.8,2,2.2,2.4,2.6,2.8,3,3.2,3.4,3.6,3.8,4,4.2,4.4,4.6,4.8,5,5.2,5.4,5.6,5.8,6,6.2,6.4,6.6,6.8,7,7.2,7.4,7.6,7.8,8,8.2,8.4,8.6,8.8,9,9.2,9.4,9.6,9.8,10,10.2,10.4,10.6,10.8,11,11.2,11.4,11.6,11.8,12,12.2,12.4,12.6,12.8,13,13.2,13.4,13.6,13.8,14,14.2,14.4,14.6,14.8,15,15.2,15.4,15.6,15.8,16,16.2,16.4,16.6,16.8,17], "tickSize": 12, "tickWidth": 2.2, "tickColor": "black", "domain": false, "labels": false, "grid": false, "title": null}}
}
},
{
"data": {"values": [{"label": "SEI HHZ", "t": 0, "v": 465.3}, {"label": "SEI HHN", "t": 0, "v": 291.7}, {"label": "SEI HHE", "t": 0, "v": 118.7}]},
"mark": {"type": "text", "align": "left", "baseline": "alphabetic", "font": "DejaVu Sans", "fontSize": 26.5, "fontWeight": "bold", "color": "#4d9900"},
"encoding": {
"x": {"field": "t", "type": "quantitative",
"axis": {"orient": "top", "domain": true, "domainColor": "black", "domainWidth": 1.5, "ticks": false, "labels": false, "grid": false, "title": null}},
"y": {"field": "v", "type": "quantitative"},
"text": {"field": "label"}
}
}
],
"resolve": {"axis": {"x": "independent"}}
}
